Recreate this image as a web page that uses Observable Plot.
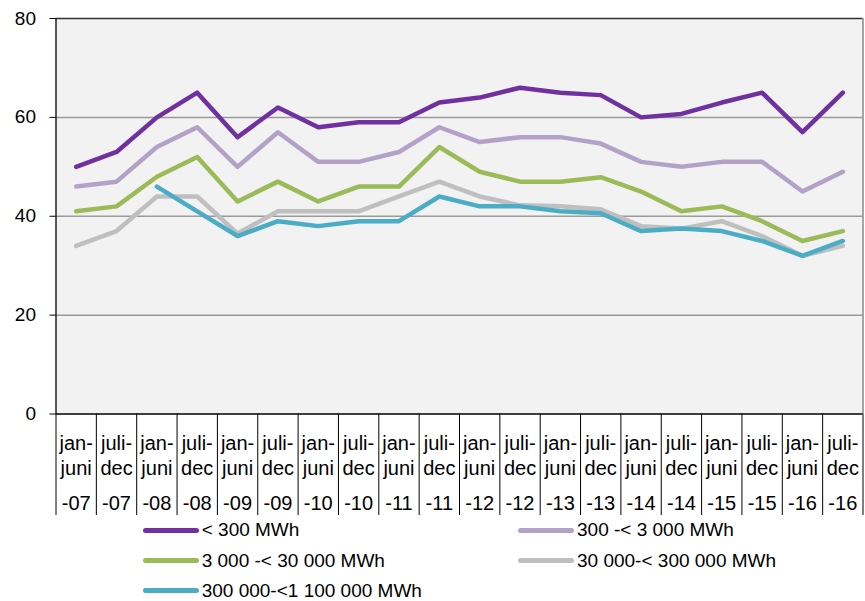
<!DOCTYPE html>
<html>
<head>
<meta charset="utf-8">
<script src="https://cdn.jsdelivr.net/npm/d3@7"></script>
<script src="https://cdn.jsdelivr.net/npm/@observablehq/plot@0.6"></script>
<style>
  body { margin: 0; background: #fff; font-family: "Liberation Sans", Arial, sans-serif; }
  #wrap { position: relative; width: 865px; height: 601px; }
  .leg { position: absolute; display: flex; align-items: center; height: 24px; font-size: 19px; color: #000; white-space: nowrap; }
  .sw { display: inline-block; width: 56px; height: 5px; border-radius: 3px; margin-right: 3px; }
</style>
</head>
<body>
<div id="wrap"></div>
<script>
const periods = ["jan-\njuni","juli-\ndec","jan-\njuni","juli-\ndec","jan-\njuni","juli-\ndec","jan-\njuni","juli-\ndec","jan-\njuni","juli-\ndec",
                 "jan-\njuni","juli-\ndec","jan-\njuni","juli-\ndec","jan-\njuni","juli-\ndec","jan-\njuni","juli-\ndec","jan-\njuni","juli-\ndec"];
const years = ["-07","-07","-08","-08","-09","-09","-10","-10","-11","-11","-12","-12","-13","-13","-14","-14","-15","-15","-16","-16"];
const seriesNames = ["< 300 MWh","300 -< 3 000 MWh","3 000 -< 30 000 MWh","30 000-< 300 000 MWh","300 000-<1 100 000 MWh"];
const seriesColors = ["#7030a0","#b3a2c7","#9bbb59","#bfbfbf","#4bacc6"];
const s1 = [50,53,60,65,56,62,58,59,59,63,64,66,65,64.5,60,60.7,63,65,57,65];
const s2 = [46,47,54,58,50,57,51,51,53,58,55,56,56,54.7,51,50,51,51,45,49];
const s3 = [41,42,48,52,43,47,43,46,46,54,49,47,47,47.9,45,41,42,39,35,37];
const s4 = [34,37,44,44,36.5,41,41,41,44,47,44,42.2,42,41.4,38,37.5,39,36,32,34];
const s5 = [null,null,46,41,36,39,38,39,39,44,42,42,41,40.6,37,37.5,37,35,32,35];
const yTicks = [0,20,40,60,80];

const allSeries = [s1,s2,s3,s4,s5];
const rows = [];
allSeries.forEach((arr, k) => arr.forEach((v, i) => { if (v != null) rows.push({s: seriesNames[k], i, v}); }));
const boundaries = d3.range(periods.length + 1).map(i => i - 0.5);

const W = 865, H = 520;
const chart = Plot.plot({
  width: W, height: H,
  marginLeft: 55.5, marginRight: 2.5, marginTop: 18, marginBottom: 106.5,
  style: {fontFamily: '"Liberation Sans", Arial, sans-serif', background: "transparent", overflow: "visible"},
  x: {type: "linear", domain: [-0.5, periods.length - 0.5]},
  y: {domain: [0, 80]},
  color: {domain: seriesNames, range: seriesColors},
  marks: [
    Plot.frame({fill: "#f2f2f2", stroke: null}),
    Plot.ruleY([20, 40, 60], {stroke: "#9a9a9a", strokeWidth: 1.5}),
    Plot.ruleY([80], {stroke: "#333", strokeWidth: 1.5}),
    Plot.ruleX([periods.length - 0.5], {stroke: "#888", strokeWidth: 1.5}),
    Plot.axisX({ticks: boundaries, tickSize: 101.5, tickFormat: () => "", label: null, stroke: "#000", strokeWidth: 1}),
    Plot.axisY({ticks: yTicks, tickSize: 6, tickPadding: 14, fontSize: 19, label: null, stroke: "#000", color: "#000"}),
    Plot.line(rows, {x: "i", y: "v", z: "s", stroke: "s", strokeWidth: 4.5, strokeLinejoin: "round", strokeLinecap: "round"}),
    Plot.ruleX([-0.5], {stroke: "#000", strokeWidth: 1.3}),
    Plot.ruleY([0], {stroke: "#000", strokeWidth: 1.3}),
    Plot.text(periods, {x: (d, i) => i, text: d => d, frameAnchor: "bottom", lineAnchor: "top", dy: 18, fontSize: 20, lineHeight: 1.25, fill: "#000"}),
    Plot.text(years, {x: (d, i) => i, text: d => d, frameAnchor: "bottom", lineAnchor: "top", dy: 82, fontSize: 20, fill: "#000"})
  ]
});
const wrap = document.getElementById("wrap");
wrap.appendChild(chart);

const legendPos = [[142.7, 530.3],[518, 530.3],[142.7, 560.5],[518, 560.5],[142.7, 590.7]];
seriesNames.forEach((name, k) => {
  const d = document.createElement("div");
  d.className = "leg";
  d.style.left = legendPos[k][0] + "px";
  d.style.top = (legendPos[k][1] - 12) + "px";
  const sw = document.createElement("span");
  sw.className = "sw";
  sw.style.background = seriesColors[k];
  d.appendChild(sw);
  d.appendChild(document.createTextNode(name));
  wrap.appendChild(d);
});
</script>
</body>
</html>
